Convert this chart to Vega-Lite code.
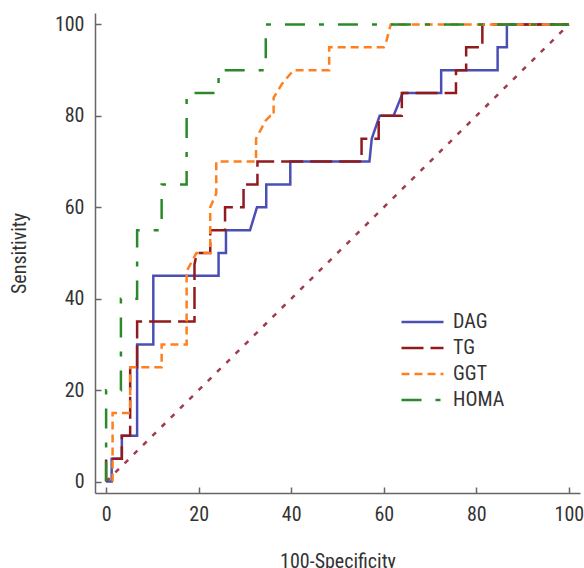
{
  "$schema": "https://vega.github.io/schema/vega-lite/v6.json",
  "width": 485,
  "height": 480,
  "autosize": {"type": "none"},
  "padding": {"left": 95, "top": 13, "right": 4, "bottom": 75},
  "background": "white",
  "config": {
    "view": {"stroke": null},
    "font": "Roboto Condensed, DejaVu Sans Condensed, Roboto",
    "axis": {
      "grid": false,
      "domainColor": "#666666",
      "domainWidth": 1.5,
      "tickColor": "#666666",
      "tickWidth": 1.5,
      "tickSize": -6,
      "labelPadding": 17,
      "labelFontSize": 20,
      "labelColor": "#333333",
      "labelFont": "Roboto Condensed, DejaVu Sans Condensed, Roboto",
      "titleFont": "Roboto Condensed, DejaVu Sans Condensed, Roboto",
      "titleFontSize": 20,
      "titleFontWeight": "normal",
      "titleColor": "#333333",
      "labelFlush": false,
      "labelOverlap": false
    },
    "axisX": {"titlePadding": 27},
    "axisY": {"titlePadding": 25}
  },
  "datasets": {
    "diag": [{"x": 0, "y": 0}, {"x": 100, "y": 100}],
    "roc": [
      {"s": "DAG", "i": 0, "x": 0, "y": 0},
      {"s": "DAG", "i": 1, "x": 1.2, "y": 0},
      {"s": "DAG", "i": 2, "x": 1.2, "y": 5},
      {"s": "DAG", "i": 3, "x": 3.4, "y": 5},
      {"s": "DAG", "i": 4, "x": 3.4, "y": 10},
      {"s": "DAG", "i": 5, "x": 6.7, "y": 10},
      {"s": "DAG", "i": 6, "x": 6.7, "y": 30},
      {"s": "DAG", "i": 7, "x": 10.2, "y": 30},
      {"s": "DAG", "i": 8, "x": 10.2, "y": 45},
      {"s": "DAG", "i": 9, "x": 24.3, "y": 45},
      {"s": "DAG", "i": 10, "x": 24.3, "y": 50},
      {"s": "DAG", "i": 11, "x": 25.9, "y": 50},
      {"s": "DAG", "i": 12, "x": 25.9, "y": 55},
      {"s": "DAG", "i": 13, "x": 31.1, "y": 55},
      {"s": "DAG", "i": 14, "x": 32.6, "y": 60},
      {"s": "DAG", "i": 15, "x": 34.6, "y": 60},
      {"s": "DAG", "i": 16, "x": 34.6, "y": 65},
      {"s": "DAG", "i": 17, "x": 39.8, "y": 65},
      {"s": "DAG", "i": 18, "x": 39.8, "y": 70},
      {"s": "DAG", "i": 19, "x": 56.9, "y": 70},
      {"s": "DAG", "i": 20, "x": 57.4, "y": 75},
      {"s": "DAG", "i": 21, "x": 59.1, "y": 80},
      {"s": "DAG", "i": 22, "x": 62.1, "y": 80},
      {"s": "DAG", "i": 23, "x": 64.1, "y": 85},
      {"s": "DAG", "i": 24, "x": 72.4, "y": 85},
      {"s": "DAG", "i": 25, "x": 72.4, "y": 90},
      {"s": "DAG", "i": 26, "x": 84.6, "y": 90},
      {"s": "DAG", "i": 27, "x": 84.6, "y": 95},
      {"s": "DAG", "i": 28, "x": 86.6, "y": 95},
      {"s": "DAG", "i": 29, "x": 86.6, "y": 100},
      {"s": "DAG", "i": 30, "x": 100, "y": 100},
      {"s": "TG", "i": 0, "x": 0, "y": 0},
      {"s": "TG", "i": 1, "x": 0, "y": 5},
      {"s": "TG", "i": 2, "x": 3.4, "y": 5},
      {"s": "TG", "i": 3, "x": 3.4, "y": 10},
      {"s": "TG", "i": 4, "x": 5.2, "y": 10},
      {"s": "TG", "i": 5, "x": 5.2, "y": 25},
      {"s": "TG", "i": 6, "x": 6.7, "y": 25},
      {"s": "TG", "i": 7, "x": 6.7, "y": 35},
      {"s": "TG", "i": 8, "x": 19.1, "y": 35},
      {"s": "TG", "i": 9, "x": 19.1, "y": 47.5},
      {"s": "TG", "i": 10, "x": 19.6, "y": 50},
      {"s": "TG", "i": 11, "x": 22.5, "y": 50},
      {"s": "TG", "i": 12, "x": 22.5, "y": 55},
      {"s": "TG", "i": 13, "x": 25.7, "y": 55},
      {"s": "TG", "i": 14, "x": 25.7, "y": 60},
      {"s": "TG", "i": 15, "x": 29.7, "y": 60},
      {"s": "TG", "i": 16, "x": 29.7, "y": 65},
      {"s": "TG", "i": 17, "x": 32.7, "y": 65},
      {"s": "TG", "i": 18, "x": 32.7, "y": 70},
      {"s": "TG", "i": 19, "x": 55.2, "y": 70},
      {"s": "TG", "i": 20, "x": 55.2, "y": 75},
      {"s": "TG", "i": 21, "x": 58.9, "y": 75},
      {"s": "TG", "i": 22, "x": 58.9, "y": 80},
      {"s": "TG", "i": 23, "x": 63.9, "y": 80},
      {"s": "TG", "i": 24, "x": 63.9, "y": 85},
      {"s": "TG", "i": 25, "x": 75.6, "y": 85},
      {"s": "TG", "i": 26, "x": 75.6, "y": 90},
      {"s": "TG", "i": 27, "x": 77.8, "y": 90},
      {"s": "TG", "i": 28, "x": 77.8, "y": 95},
      {"s": "TG", "i": 29, "x": 81.3, "y": 95},
      {"s": "TG", "i": 30, "x": 81.3, "y": 100},
      {"s": "TG", "i": 31, "x": 100, "y": 100},
      {"s": "GGT", "i": 0, "x": 1.4, "y": 0},
      {"s": "GGT", "i": 1, "x": 1.4, "y": 15},
      {"s": "GGT", "i": 2, "x": 5.2, "y": 15},
      {"s": "GGT", "i": 3, "x": 5.2, "y": 25},
      {"s": "GGT", "i": 4, "x": 12, "y": 25},
      {"s": "GGT", "i": 5, "x": 12, "y": 30},
      {"s": "GGT", "i": 6, "x": 17.4, "y": 30},
      {"s": "GGT", "i": 7, "x": 17.4, "y": 46},
      {"s": "GGT", "i": 8, "x": 19.5, "y": 50},
      {"s": "GGT", "i": 9, "x": 22.5, "y": 50},
      {"s": "GGT", "i": 10, "x": 22.5, "y": 60},
      {"s": "GGT", "i": 11, "x": 23.8, "y": 63},
      {"s": "GGT", "i": 12, "x": 23.8, "y": 70},
      {"s": "GGT", "i": 13, "x": 32.4, "y": 70},
      {"s": "GGT", "i": 14, "x": 32.4, "y": 75},
      {"s": "GGT", "i": 15, "x": 34.5, "y": 79},
      {"s": "GGT", "i": 16, "x": 35.5, "y": 80},
      {"s": "GGT", "i": 17, "x": 36.2, "y": 80},
      {"s": "GGT", "i": 18, "x": 36.2, "y": 84},
      {"s": "GGT", "i": 19, "x": 38, "y": 87},
      {"s": "GGT", "i": 20, "x": 40.5, "y": 90},
      {"s": "GGT", "i": 21, "x": 48.2, "y": 90},
      {"s": "GGT", "i": 22, "x": 48.2, "y": 95},
      {"s": "GGT", "i": 23, "x": 60, "y": 95},
      {"s": "GGT", "i": 24, "x": 60.6, "y": 96.5},
      {"s": "GGT", "i": 25, "x": 61.5, "y": 100},
      {"s": "GGT", "i": 26, "x": 100, "y": 100},
      {"s": "HOMA", "i": 0, "x": 0, "y": 0},
      {"s": "HOMA", "i": 1, "x": 0, "y": 20},
      {"s": "HOMA", "i": 2, "x": 3.2, "y": 20},
      {"s": "HOMA", "i": 3, "x": 3.2, "y": 40},
      {"s": "HOMA", "i": 4, "x": 6.7, "y": 40},
      {"s": "HOMA", "i": 5, "x": 6.7, "y": 55},
      {"s": "HOMA", "i": 6, "x": 12, "y": 55},
      {"s": "HOMA", "i": 7, "x": 12, "y": 65},
      {"s": "HOMA", "i": 8, "x": 17.4, "y": 65},
      {"s": "HOMA", "i": 9, "x": 17.4, "y": 85},
      {"s": "HOMA", "i": 10, "x": 24.3, "y": 85},
      {"s": "HOMA", "i": 11, "x": 24.3, "y": 90},
      {"s": "HOMA", "i": 12, "x": 34.5, "y": 90},
      {"s": "HOMA", "i": 13, "x": 34.5, "y": 100},
      {"s": "HOMA", "i": 14, "x": 100, "y": 100}
    ]
  },
  "layer": [
    {
      "data": {"name": "diag"},
      "mark": {"type": "line", "color": "#a03c4c", "strokeWidth": 2.5, "strokeDash": [5, 8]},
      "encoding": {
        "x": {"field": "x", "type": "quantitative", "scale": {"domain": [-2.4, 102.4], "nice": false, "zero": false}, "axis": {"title": "100-Specificity", "values": [0, 20, 40, 60, 80, 100]}},
        "y": {"field": "y", "type": "quantitative", "scale": {"domain": [-2.5, 102.5], "nice": false, "zero": false}, "axis": {"title": "Sensitivity", "values": [0, 20, 40, 60, 80, 100]}}
      }
    },
    {
      "data": {"name": "roc"},
      "mark": {"type": "line", "strokeWidth": 2.5},
      "encoding": {
        "x": {"field": "x", "type": "quantitative", "axis": {"title": "100-Specificity", "values": [0, 20, 40, 60, 80, 100]}},
        "y": {"field": "y", "type": "quantitative", "axis": {"title": "Sensitivity", "values": [0, 20, 40, 60, 80, 100]}},
        "order": {"field": "i", "type": "quantitative"},
        "color": {
          "field": "s", "type": "nominal",
          "scale": {"domain": ["DAG", "TG", "GGT", "HOMA"], "range": ["#4b4fb5", "#901a1e", "#ff7f1e", "#2a8a2a"]},
          "legend": {
            "orient": "none", "legendX": 305, "legendY": 299, "title": null,
            "symbolType": "stroke", "symbolSize": 1764, "symbolStrokeWidth": 2.5,
            "clipHeight": 20, "rowPadding": 6, "padding": 0, "labelOffset": 8,
            "labelFontSize": 20, "labelColor": "#333333", "labelFont": "Roboto Condensed, DejaVu Sans Condensed, Roboto"
          }
        },
        "strokeDash": {
          "field": "s", "type": "nominal",
          "scale": {"domain": ["DAG", "TG", "GGT", "HOMA"], "range": [[1, 0], [22, 7], [8, 5], [20, 14, 5, 14]]},
          "legend": {
            "orient": "none", "legendX": 305, "legendY": 299, "title": null,
            "symbolType": "stroke", "symbolSize": 1764, "symbolStrokeWidth": 2.5,
            "clipHeight": 20, "rowPadding": 6, "padding": 0, "labelOffset": 8,
            "labelFontSize": 20, "labelColor": "#333333", "labelFont": "Roboto Condensed, DejaVu Sans Condensed, Roboto"
          }
        }
      }
    }
  ]
}
